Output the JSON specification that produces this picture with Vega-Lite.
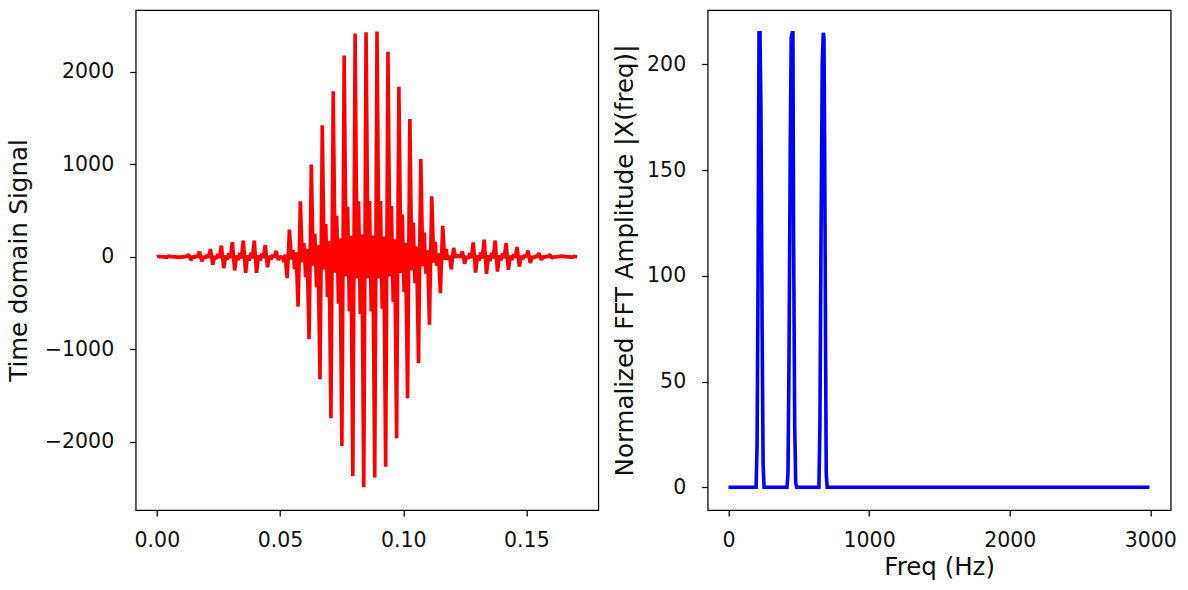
{
"$schema": "https://vega.github.io/schema/vega-lite/v6.json",
"autosize": {"type": "none"},
"padding": {"left": 135.7, "top": 10, "right": 1052.3, "bottom": 580},
"bounds": "flush",
"spacing": 109,
"config": {
  "font": "DejaVu Sans",
  "view": {"stroke": "#000000", "strokeWidth": 1.25},
  "axis": {"grid": false, "domain": false, "tickColor": "#000000", "tickWidth": 1.25, "tickSize": 6,
           "labelFont": "DejaVu Sans", "labelFontSize": 20.5, "labelColor": "#111111",
           "titleFont": "DejaVu Sans", "titleFontSize": 24.5, "titleFontWeight": "normal", "titleColor": "#111111",
           "labelFlush": false, "labelOverlap": false}
},
"datasets": {
"sig": [
{"t":0,"v":0},{"t":0.00046,"v":5},{"t":0.00127,"v":0},{"t":0.00187,"v":1},{"t":0.00222,"v":0},{"t":0.00257,"v":-2},{"t":0.00317,"v":1},{"t":0.00398,"v":-8},
{"t":0.00444,"v":0},{"t":0.0049,"v":10},{"t":0.00571,"v":-1},{"t":0.00631,"v":2},{"t":0.00666,"v":0},{"t":0.00701,"v":-2},{"t":0.00761,"v":1},{"t":0.00842,"v":-8},
{"t":0.00889,"v":0},{"t":0.00935,"v":-10},{"t":0.01016,"v":1},{"t":0.01076,"v":-2},{"t":0.01111,"v":0},{"t":0.01146,"v":6},{"t":0.01206,"v":-2},{"t":0.01287,"v":25},
{"t":0.01333,"v":0},{"t":0.01379,"v":-38},{"t":0.0146,"v":4},{"t":0.0152,"v":-9},{"t":0.01555,"v":0},{"t":0.0159,"v":14},{"t":0.0165,"v":-6},{"t":0.01731,"v":58},
{"t":0.01778,"v":0},{"t":0.01824,"v":-50},{"t":0.01905,"v":5},{"t":0.01965,"v":-12},{"t":0.02,"v":0},{"t":0.02035,"v":20},{"t":0.02095,"v":-8},{"t":0.02176,"v":83},
{"t":0.02222,"v":0},{"t":0.02268,"v":-85},{"t":0.02349,"v":8},{"t":0.02409,"v":-21},{"t":0.02444,"v":0},{"t":0.02479,"v":30},{"t":0.02539,"v":-12},{"t":0.0262,"v":120},
{"t":0.02667,"v":0},{"t":0.02713,"v":-123},{"t":0.02794,"v":12},{"t":0.02854,"v":-30},{"t":0.02889,"v":0},{"t":0.02924,"v":39},{"t":0.02984,"v":-15},{"t":0.03065,"v":158},
{"t":0.03111,"v":0},{"t":0.03157,"v":-148},{"t":0.03238,"v":14},{"t":0.03298,"v":-37},{"t":0.03333,"v":0},{"t":0.03368,"v":43},{"t":0.03428,"v":-17},{"t":0.03509,"v":175},
{"t":0.03556,"v":0},{"t":0.03602,"v":-175},{"t":0.03683,"v":17},{"t":0.03743,"v":-43},{"t":0.03778,"v":0},{"t":0.03813,"v":43},{"t":0.03873,"v":-17},{"t":0.03954,"v":175},
{"t":0.04,"v":0},{"t":0.04046,"v":-173},{"t":0.04127,"v":17},{"t":0.04187,"v":-43},{"t":0.04222,"v":0},{"t":0.04257,"v":31},{"t":0.04317,"v":-12},{"t":0.04398,"v":125},
{"t":0.04445,"v":0},{"t":0.04491,"v":-113},{"t":0.04572,"v":11},{"t":0.04632,"v":-28},{"t":0.04667,"v":0},{"t":0.04702,"v":16},{"t":0.04762,"v":-6},{"t":0.04843,"v":65},
{"t":0.0489,"v":0},{"t":0.04936,"v":-33},{"t":0.05017,"v":3},{"t":0.05077,"v":-8},{"t":0.05112,"v":0},{"t":0.05147,"v":-57},{"t":0.05207,"v":22},{"t":0.05288,"v":-230},
{"t":0.05334,"v":0},{"t":0.0538,"v":293},{"t":0.05461,"v":-28},{"t":0.05521,"v":73},{"t":0.05556,"v":0},{"t":0.05591,"v":-133},{"t":0.05651,"v":52},{"t":0.05732,"v":-538},
{"t":0.05779,"v":0},{"t":0.05825,"v":598},{"t":0.05906,"v":-57},{"t":0.05966,"v":148},{"t":0.06001,"v":0},{"t":0.06036,"v":-221},{"t":0.06096,"v":85},{"t":0.06177,"v":-890},
{"t":0.06223,"v":0},{"t":0.06269,"v":995},{"t":0.0635,"v":-96},{"t":0.0641,"v":247},{"t":0.06445,"v":0},{"t":0.0648,"v":-328},{"t":0.0654,"v":127},{"t":0.06621,"v":-1323},
{"t":0.06668,"v":0},{"t":0.06714,"v":1420},{"t":0.06795,"v":-136},{"t":0.06855,"v":352},{"t":0.0689,"v":0},{"t":0.06925,"v":-433},{"t":0.06985,"v":168},{"t":0.07066,"v":-1745},
{"t":0.07112,"v":0},{"t":0.07158,"v":1788},{"t":0.07239,"v":-172},{"t":0.07299,"v":443},{"t":0.07334,"v":0},{"t":0.07369,"v":-507},{"t":0.07429,"v":196},{"t":0.0751,"v":-2043},
{"t":0.07557,"v":0},{"t":0.07603,"v":2173},{"t":0.07684,"v":-209},{"t":0.07744,"v":539},{"t":0.07779,"v":0},{"t":0.07814,"v":-587},{"t":0.07874,"v":227},{"t":0.07955,"v":-2368},
{"t":0.08001,"v":0},{"t":0.08047,"v":2410},{"t":0.08128,"v":-231},{"t":0.08188,"v":598},{"t":0.08223,"v":0},{"t":0.08258,"v":-618},{"t":0.08318,"v":239},{"t":0.08399,"v":-2490},
{"t":0.08446,"v":0},{"t":0.08492,"v":2425},{"t":0.08573,"v":-233},{"t":0.08633,"v":601},{"t":0.08668,"v":0},{"t":0.08703,"v":-591},{"t":0.08763,"v":229},{"t":0.08844,"v":-2385},
{"t":0.0889,"v":0},{"t":0.08936,"v":2433},{"t":0.09017,"v":-234},{"t":0.09077,"v":603},{"t":0.09112,"v":0},{"t":0.09147,"v":-562},{"t":0.09207,"v":218},{"t":0.09288,"v":-2268},
{"t":0.09335,"v":0},{"t":0.09381,"v":2215},{"t":0.09462,"v":-213},{"t":0.09522,"v":549},{"t":0.09557,"v":0},{"t":0.09592,"v":-486},{"t":0.09652,"v":188},{"t":0.09733,"v":-1960},
{"t":0.09779,"v":0},{"t":0.09825,"v":1835},{"t":0.09906,"v":-176},{"t":0.09966,"v":455},{"t":0.10001,"v":0},{"t":0.10036,"v":-379},{"t":0.10096,"v":147},{"t":0.10177,"v":-1528},
{"t":0.10224,"v":0},{"t":0.1027,"v":1488},{"t":0.10351,"v":-143},{"t":0.10411,"v":369},{"t":0.10446,"v":0},{"t":0.10481,"v":-285},{"t":0.10541,"v":110},{"t":0.10622,"v":-1150},
{"t":0.10668,"v":0},{"t":0.10714,"v":1055},{"t":0.10795,"v":-101},{"t":0.10855,"v":262},{"t":0.1089,"v":0},{"t":0.10925,"v":-182},{"t":0.10985,"v":71},{"t":0.11066,"v":-735},
{"t":0.11113,"v":0},{"t":0.11159,"v":653},{"t":0.1124,"v":-63},{"t":0.113,"v":162},{"t":0.11335,"v":0},{"t":0.1137,"v":-97},{"t":0.1143,"v":38},{"t":0.11511,"v":-393},
{"t":0.11557,"v":0},{"t":0.11603,"v":335},{"t":0.11684,"v":-32},{"t":0.11744,"v":83},{"t":0.11779,"v":0},{"t":0.11814,"v":-33},{"t":0.11874,"v":13},{"t":0.11955,"v":-135},
{"t":0.12002,"v":0},{"t":0.12048,"v":95},{"t":0.12129,"v":-9},{"t":0.12189,"v":24},{"t":0.12224,"v":0},{"t":0.12259,"v":14},{"t":0.12319,"v":-6},{"t":0.124,"v":58},
{"t":0.12446,"v":0},{"t":0.12492,"v":-75},{"t":0.12573,"v":7},{"t":0.12633,"v":-19},{"t":0.12668,"v":0},{"t":0.12703,"v":38},{"t":0.12763,"v":-15},{"t":0.12844,"v":155},
{"t":0.12891,"v":0},{"t":0.12937,"v":-170},{"t":0.13018,"v":16},{"t":0.13078,"v":-42},{"t":0.13113,"v":0},{"t":0.13148,"v":46},{"t":0.13208,"v":-18},{"t":0.13289,"v":185},
{"t":0.13335,"v":0},{"t":0.13381,"v":-185},{"t":0.13462,"v":18},{"t":0.13522,"v":-46},{"t":0.13557,"v":0},{"t":0.13592,"v":43},{"t":0.13652,"v":-17},{"t":0.13733,"v":175},
{"t":0.1378,"v":0},{"t":0.13826,"v":-160},{"t":0.13907,"v":15},{"t":0.13967,"v":-40},{"t":0.14002,"v":0},{"t":0.14037,"v":37},{"t":0.14097,"v":-14},{"t":0.14178,"v":148},
{"t":0.14224,"v":0},{"t":0.1427,"v":-140},{"t":0.14351,"v":13},{"t":0.14411,"v":-35},{"t":0.14446,"v":0},{"t":0.14481,"v":26},{"t":0.14541,"v":-10},{"t":0.14622,"v":105},
{"t":0.14669,"v":0},{"t":0.14715,"v":-105},{"t":0.14796,"v":10},{"t":0.14856,"v":-26},{"t":0.14891,"v":0},{"t":0.14926,"v":17},{"t":0.14986,"v":-6},{"t":0.15067,"v":68},
{"t":0.15113,"v":0},{"t":0.15159,"v":-68},{"t":0.1524,"v":6},{"t":0.153,"v":-17},{"t":0.15335,"v":0},{"t":0.1537,"v":10},{"t":0.1543,"v":-4},{"t":0.15511,"v":40},
{"t":0.15558,"v":0},{"t":0.15604,"v":-33},{"t":0.15685,"v":3},{"t":0.15745,"v":-8},{"t":0.1578,"v":0},{"t":0.15815,"v":6},{"t":0.15875,"v":-2},{"t":0.15956,"v":25},
{"t":0.16002,"v":0},{"t":0.16048,"v":-15},{"t":0.16129,"v":1},{"t":0.16189,"v":-4},{"t":0.16224,"v":0},{"t":0.16259,"v":2},{"t":0.16319,"v":-1},{"t":0.164,"v":10},
{"t":0.16447,"v":0},{"t":0.16493,"v":8},{"t":0.16574,"v":-1},{"t":0.16634,"v":2},{"t":0.16669,"v":0},{"t":0.16704,"v":-2},{"t":0.16764,"v":1},{"t":0.16845,"v":-8},
{"t":0.16891,"v":0},{"t":0.16937,"v":5},{"t":0.17018,"v":0},{"t":0.1706,"v":0}
],
"fft": [
{"f":0,"a":0},{"f":196,"a":0},{"f":203,"a":19},{"f":210,"a":97},{"f":217,"a":215},{"f":224,"a":215},{"f":231,"a":176},{"f":239,"a":76},{"f":246,"a":11},{"f":253,"a":0},
{"f":416,"a":0},{"f":423,"a":6.5},{"f":430,"a":58},{"f":439,"a":158.5},{"f":446,"a":212.7},{"f":453,"a":215},{"f":458,"a":215},{"f":463,"a":117},{"f":471,"a":28.6},{"f":478,"a":2},{"f":485,"a":0},
{"f":643,"a":0},{"f":650,"a":28.6},{"f":658,"a":118},{"f":667,"a":201},{"f":674,"a":215},{"f":679,"a":212.7},{"f":684,"a":158.5},{"f":691,"a":58},{"f":695,"a":6.5},{"f":702,"a":0},{"f":2994,"a":0}
]
},
"hconcat": [
{
  "width": 462.6, "height": 500,
  "data": {"name": "sig"},
  "mark": {"type": "line", "color": "#ff0000", "strokeWidth": 3.6, "strokeJoin": "bevel", "clip": true},
  "encoding": {
    "x": {"field": "t", "type": "quantitative",
          "scale": {"domain": [-0.0086, 0.1792], "nice": false, "zero": false},
          "axis": {"values": [0, 0.05, 0.1, 0.15], "format": ".2f", "title": null, "labelBaseline": "middle", "labelPadding": 24}},
    "y": {"field": "v", "type": "quantitative",
          "scale": {"domain": [-2735, 2665], "nice": false, "zero": false},
          "axis": {"values": [-2000, -1000, 0, 1000, 2000], "format": "d", "title": "Time domain Signal",
                   "labelPadding": 16, "titleX": -116, "titleY": 250, "titleAlign": "center", "titleBaseline": "middle", "titleAngle": -90}}
  }
},
{
  "width": 463, "height": 500,
  "data": {"name": "fft"},
  "mark": {"type": "line", "color": "#0000ff", "strokeWidth": 3.6, "strokeJoin": "miter", "strokeMiterLimit": 4, "clip": true},
  "encoding": {
    "x": {"field": "f", "type": "quantitative",
          "scale": {"domain": [-148, 3145], "nice": false, "zero": false},
          "axis": {"values": [0, 1000, 2000, 3000], "format": "d", "title": "Freq (Hz)", "labelBaseline": "middle", "labelPadding": 24,
                   "titleX": 231.5, "titleY": 57, "titleAlign": "center", "titleBaseline": "middle"}},
    "y": {"field": "a", "type": "quantitative",
          "scale": {"domain": [-10.75, 225.75], "nice": false, "zero": false},
          "axis": {"values": [0, 50, 100, 150, 200], "format": "d", "title": "Normalized FFT Amplitude |X(freq)|",
                   "labelPadding": 16, "titleX": -82, "titleY": 250, "titleAlign": "center", "titleBaseline": "middle", "titleAngle": -90}}
  }
}
]
}
